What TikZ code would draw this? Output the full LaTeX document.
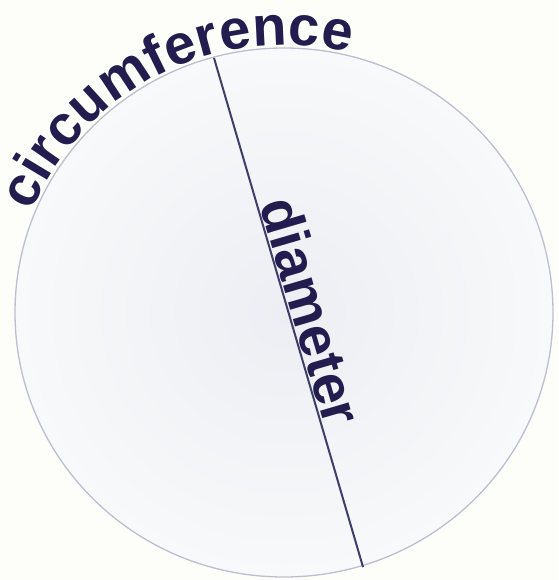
\documentclass[tikz,border=0pt]{standalone}
\usepackage{fontspec}
\setmainfont{Liberation Sans}
\usetikzlibrary{decorations.text}
\definecolor{bg}{HTML}{FDFEFA}
\definecolor{discfill}{HTML}{ECEEF3}
\definecolor{discedge}{HTML}{F8F9FA}
\definecolor{rim}{HTML}{BDBECF}
\definecolor{ink}{HTML}{221D4E}
\definecolor{lineink}{HTML}{3E3E6A}
\tikzset{
  disc/.style={inner color=discfill, outer color=discedge},
  diamline/.style={draw=lineink, line width=2pt},
  labeltext/.style={text=ink, font=\bfseries\fontsize{56}{56}\selectfont, inner sep=1pt}
}
\begin{document}
\begin{tikzpicture}[x=1pt,y=1pt]
  \fill[bg] (0,0) rectangle (558,580);
  \useasboundingbox (0,0) rectangle (558,580);
  \coordinate (c) at (284,267.5);
  \shade[disc] (c) ellipse [x radius=269, y radius=264.5];
  \draw[rim, line width=1.3pt] (c) ellipse [x radius=269, y radius=264.5];
  \coordinate (top) at (214,522);
  \coordinate (bot) at (363,13);
  \draw[diamline] (top) -- (bot)
    node[pos=0.51, sloped, anchor=south, labeltext] (dlab) {diameter};
  \path[decorate, decoration={text along path, raise=3pt, text align=center,
      text={|\color{ink}\bfseries\fontsize{56}{56}\selectfont|circumference}}]
    (c) ++(167:269 and 264.5) arc[start angle=167, end angle=67, x radius=269, y radius=264.5];
\end{tikzpicture}
\end{document}
